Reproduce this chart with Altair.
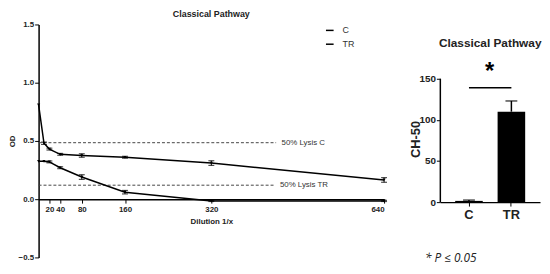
import altair as alt
import pandas as pd

# ---- data: left panel (OD vs dilution) ----
dilution = [0, 10, 20, 40, 80, 160, 320, 640]
od_c = [0.81, 0.48, 0.43, 0.385, 0.375, 0.36, 0.31, 0.165]
err_c = [0.0, 0.01, 0.008, 0.008, 0.015, 0.008, 0.02, 0.02]
od_tr = [0.325, 0.325, 0.32, 0.27, 0.19, 0.06, -0.015, -0.015]
err_tr = [0.0, 0.0, 0.008, 0.008, 0.02, 0.015, 0.005, 0.005]
x_ticks = [20, 40, 80, 160, 320, 640]
y_ticks = [-0.5, 0.0, 0.5, 1.0, 1.5]
lysis_labels = ["50%  Lysis C", "50%  Lysis TR"]
lysis_od = [0.485, 0.12]
lysis_end = [440, 438]
lysis_text_x = [450, 447]

# ---- data: right panel (CH-50 bars) ----
groups = ["C", "TR"]
ch50 = [1.5, 110]
ch50_err = [1.0, 13]
sig_level = 139
star_level = 158
bar_ticks = [0, 50, 100, 150]

rows = []
for s, vals, errs in [("C", od_c, err_c), ("TR", od_tr, err_tr)]:
    for d, v, e in zip(dilution, vals, errs):
        rows.append({"dil": d, "od": v, "lo": v - e, "hi": v + e, "series": s})
df = pd.DataFrame(rows)
df_err = df[df["hi"] - df["lo"] > 0]
df_lysis = pd.DataFrame({"label": lysis_labels, "od": lysis_od, "x0": [0, 0],
                         "x1": lysis_end, "tx": lysis_text_x})

FONT = "Liberation Sans"
W1, H = 350, 236
ydom1 = [-0.5, 1.5]

xs = alt.Scale(domain=[0, 640], nice=False, zero=True)
ys = alt.Scale(domain=ydom1, nice=False)

base = alt.Chart(df)
lines = base.mark_line(strokeWidth=1.5).encode(
    x=alt.X("dil:Q", scale=xs, axis=alt.Axis(
        values=x_ticks, title="Dilution 1/x", offset=-59, labelFontSize=8,
        labelFontWeight="bold", titleFontSize=8, titleFontWeight="bold",
        tickSize=4, tickColor="black", domainColor="black", domainWidth=1.5,
        labelColor="#222", titleColor="#222", titlePadding=5, grid=False,
        labelPadding=2)),
    y=alt.Y("od:Q", scale=ys, axis=alt.Axis(
        values=y_ticks, format=".1f", title="OD", labelFontSize=8,
        labelFontWeight="bold", titleFontSize=8, titleFontWeight="bold",
        tickSize=4, tickColor="black", domainColor="black", domainWidth=1.5,
        labelColor="#222", titleColor="#222", titlePadding=2, grid=False,
        labelPadding=1)),
    color=alt.Color("series:N", scale=alt.Scale(domain=groups, range=["black", "black"]),
                    legend=alt.Legend(title=None, orient="none", legendX=290, legendY=1,
                                      symbolType="stroke", symbolSize=60,
                                      symbolStrokeWidth=1.5, labelFontSize=9,
                                      labelColor="#333", rowPadding=4,
                                      labelOffset=8)),
    detail="series:N",
)
pts = base.mark_point(filled=True, size=10, shape="triangle-down", opacity=1).encode(
    x=alt.X("dil:Q", scale=xs), y=alt.Y("od:Q", scale=ys),
    color=alt.value("black"))
ebar = alt.Chart(df_err).mark_rule(strokeWidth=1, color="black").encode(
    x=alt.X("dil:Q", scale=xs), y=alt.Y("lo:Q", scale=ys), y2="hi:Q")
ecap_lo = alt.Chart(df_err).mark_tick(thickness=1.2, size=6, color="black",
                                      orient="horizontal").encode(
    x=alt.X("dil:Q", scale=xs), y=alt.Y("lo:Q", scale=ys))
ecap_hi = alt.Chart(df_err).mark_tick(thickness=1.2, size=6, color="black",
                                      orient="horizontal").encode(
    x=alt.X("dil:Q", scale=xs), y=alt.Y("hi:Q", scale=ys))
dash = alt.Chart(df_lysis).mark_rule(strokeDash=[3, 2], color="#444", strokeWidth=1).encode(
    x=alt.X("x0:Q", scale=xs), x2="x1:Q", y=alt.Y("od:Q", scale=ys))
dash_txt = alt.Chart(df_lysis).mark_text(align="left", baseline="middle", fontSize=8,
                                         color="#333", font=FONT).encode(
    x=alt.X("tx:Q", scale=xs), y=alt.Y("od:Q", scale=ys), text="label:N")

left = alt.layer(dash, dash_txt, lines, ebar, ecap_lo, ecap_hi, pts).properties(
    width=W1, height=H,
    title=alt.TitleParams("Classical Pathway", fontSize=9, fontWeight="bold",
                          color="#222", offset=2, font=FONT))

# ---- right panel ----
W2 = 101
ydom2 = [-67.2, 216]
ys2 = alt.Scale(domain=ydom2, nice=False, zero=False)
xb = alt.Scale(domain=groups, paddingInner=0.35, paddingOuter=0.35)
df_bar = pd.DataFrame({"g": groups, "v": ch50, "hi": [a + b for a, b in zip(ch50, ch50_err)]})

bars = alt.Chart(df_bar).mark_bar(color="black").encode(
    x=alt.X("g:N", scale=xb, axis=alt.Axis(
        title="* P ≤ 0.05", labelAngle=0, offset=-56, labelFontSize=13,
        labelFontWeight="bold", labelColor="#222", tickSize=4, tickColor="black",
        domainColor="black", domainWidth=1.5, labelPadding=3,
        titleFontSize=12, titleFontStyle="italic", titleFontWeight="normal",
        titleColor="#222", titleFont="Open Sans", titlePadding=31, titleX=-16,
        titleAnchor="start", titleAlign="left")),
    y=alt.Y("v:Q", scale=ys2, axis=alt.Axis(
        values=bar_ticks, title="CH-50", domain=False, labelFontSize=10,
        labelFontWeight="bold", labelColor="#222", tickSize=4, tickColor="black",
        titleFontSize=13, titleFontWeight="bold", titleColor="#222",
        titlePadding=-4, grid=False, labelPadding=1, titleY=116)),
)
bar_err = alt.Chart(df_bar).mark_rule(color="black", strokeWidth=1.5).encode(
    x=alt.X("g:N", scale=xb), y=alt.Y("v:Q", scale=ys2), y2="hi:Q")
bar_cap = alt.Chart(df_bar).mark_tick(color="black", thickness=1.5, size=12,
                                      orient="horizontal").encode(
    x=alt.X("g:N", scale=xb), y=alt.Y("hi:Q", scale=ys2))
yaxis_line = alt.Chart(pd.DataFrame({"a": [bar_ticks[0]], "b": [bar_ticks[-1]]})).mark_rule(
    color="black", strokeWidth=1.5).encode(
    x=alt.value(0), y=alt.Y("a:Q", scale=ys2), y2="b:Q")
sig = alt.Chart(pd.DataFrame({"a": [groups[0]], "b": [groups[1]], "y": [sig_level]})).mark_rule(
    color="black", strokeWidth=1.5).encode(
    x=alt.X("a:N", scale=xb), x2="b:N", y=alt.Y("y:Q", scale=ys2))
star = alt.Chart(pd.DataFrame({"a": [groups[0]], "y": [star_level], "t": ["*"]})).mark_text(
    fontSize=24, fontWeight="bold", color="black", dx=21, baseline="middle",
    font=FONT).encode(
    x=alt.X("a:N", scale=xb), y=alt.Y("y:Q", scale=ys2), text="t:N")

right = alt.layer(bars, bar_err, bar_cap, yaxis_line, sig, star).properties(
    width=W2, height=H,
    title=alt.TitleParams("Classical Pathway", fontSize=12, fontWeight="bold",
                          color="#222", dy=30, font=FONT))

chart = alt.hconcat(left, right, spacing=57, bounds="flush").configure(
    padding=0, font=FONT).configure_view(stroke=None)

chart.save("out.html", embed_options={"renderer": "svg", "actions": False})
